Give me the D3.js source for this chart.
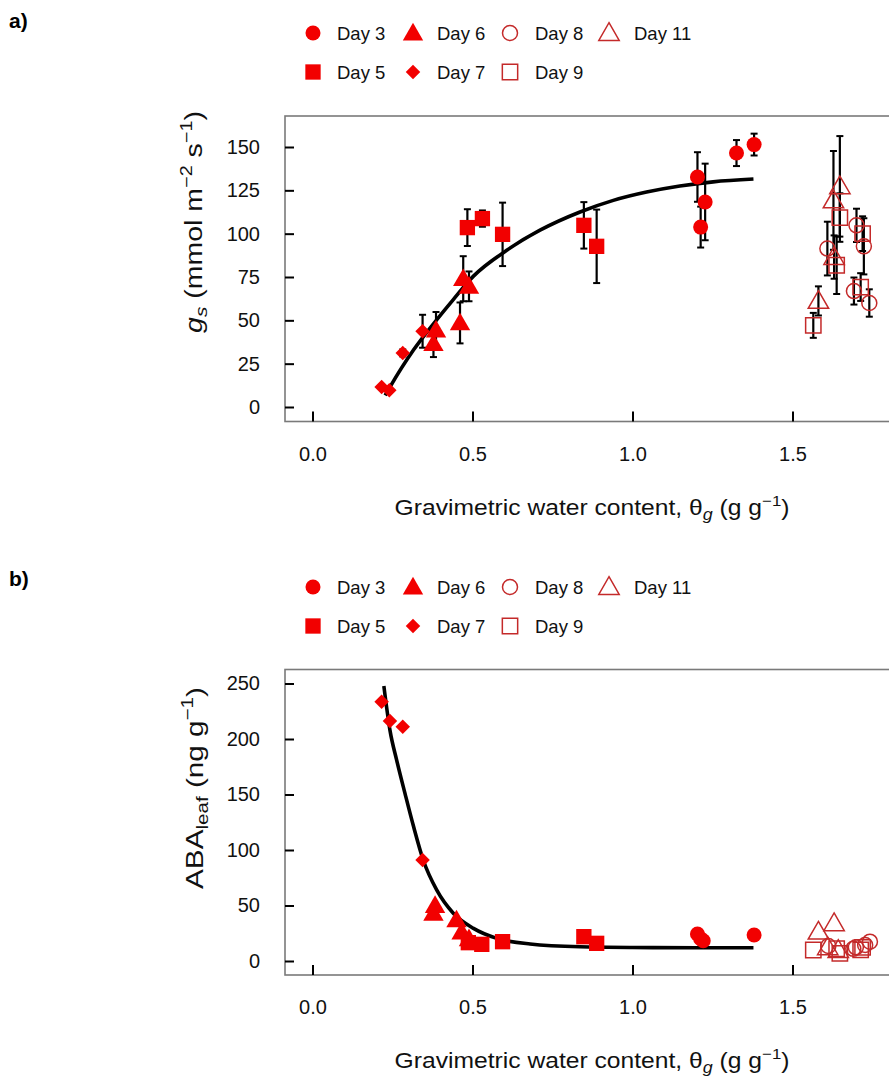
<!DOCTYPE html>
<html><head><meta charset="utf-8">
<script src="https://cdn.jsdelivr.net/npm/d3@7"></script>
<style>body{margin:0;background:#fff}svg{display:block;font-family:"Liberation Sans",Arial,sans-serif}</style>
</head><body><svg id="c" width="889" height="1077"></svg>
<script>
// ---------- data ----------
const xTicks = [0, 0.5, 1.0, 1.5];
const gsTicks = [0, 25, 50, 75, 100, 125, 150];
const abaTicks = [0, 50, 100, 150, 200, 250];
const legendRow1 = ["Day 3", "Day 6", "Day 8", "Day 11"];
const legendRow2 = ["Day 5", "Day 7", "Day 9"];

// stomatal conductance: [theta_g, gs, s.e.]
const gsDay3 = [[1.203,132.7,14.3],[1.227,118.3,22.1],[1.213,103.8,11.8],[1.325,146.5,7.5],[1.38,151.4,6.3]];
const gsDay5 = [[0.484,103.5,10.6],[0.531,108.7,4.7],[0.594,99.6,18.3],[0.848,104.8,13.4],[0.888,92.7,21.2]];
const gsDay6 = [[0.386,44.3,10.5],[0.378,36.5,7.7],[0.461,48.5,11.8],[0.471,74,13],[0.489,69.6,8.6]];
const gsDay7 = [[0.216,11.5,0],[0.24,9.6,0],[0.282,31.2,2],[0.344,43.7,9.5]];
const gsDay8 = [[1.609,91.4,15.5],[1.70,104.8,9.6],[1.723,92.7,16.2],[1.692,66.9,7.8],[1.74,60,7.9]];
const gsDay9 = [[1.565,47.1,7.2],[1.648,109.3,14],[1.638,81.8,16.6],[1.719,100,10],[1.713,69.2,8]];
const gsDay11 = [[1.581,61.2,8.4],[1.628,119.2,28.5],[1.648,127.3,29],[1.630,86.5,12.5]];

// leaf ABA: [theta_g, ABA]
const abaDay3 = [[1.203,24.3],[1.221,18.3],[1.213,20],[1.38,23.4]];
const abaDay5 = [[0.487,16.5],[0.529,15],[0.594,17.4],[0.848,21.9],[0.888,15.9]];
const abaDay6 = [[0.383,50],[0.378,43],[0.45,37],[0.466,26],[0.489,20]];
const abaDay7 = [[0.216,233.6],[0.242,216.2],[0.282,211.1],[0.344,91]];
const abaDay8 = [[1.612,13.5],[1.698,12.3],[1.727,14.4],[1.742,17.4],[1.69,11]];
const abaDay9 = [[1.565,9.9],[1.648,6.9],[1.638,11],[1.719,12.3],[1.713,10]];
const abaDay11 = [[1.581,26.4],[1.630,34],[1.61,12.3],[1.643,9.9]];

// fitted curves
const gsFitX = [0.227,0.242,0.315,0.378,0.44,0.503,0.607,0.711,0.836,0.94,1.044,1.148,1.252,1.378];
const gsFitY = [6.7,11.5,32.7,48,62,75.5,90.4,102,112.5,119.2,124,127.5,129.9,131.5];
const abaFitX = [0.223,0.242,0.263,0.289,0.315,0.346,0.388,0.44,0.503,0.576,0.68,0.836,1.0,1.2,1.378];
const abaFitY = [247.7,208,181,151,122,91,64,43,29.4,20.4,15.3,12.8,12.2,12,12];

// ---------- styling / table ----------
const RED = "#f20000", DARK = "#c42a2a";
const styles = {
  "Day 3": {shape: "circle", filled: true},
  "Day 5": {shape: "square", filled: true},
  "Day 6": {shape: "triangle", filled: true},
  "Day 7": {shape: "diamond", filled: true},
  "Day 8": {shape: "circle", filled: false},
  "Day 9": {shape: "square", filled: false},
  "Day 11": {shape: "triangle", filled: false}
};
const seriesA = [["Day 3",gsDay3],["Day 5",gsDay5],["Day 6",gsDay6],["Day 7",gsDay7],["Day 8",gsDay8],["Day 9",gsDay9],["Day 11",gsDay11]];
const seriesB = [["Day 3",abaDay3],["Day 5",abaDay5],["Day 6",abaDay6],["Day 7",abaDay7],["Day 8",abaDay8],["Day 9",abaDay9],["Day 11",abaDay11]];

const svg = d3.select("#c");
const FONT = "'Liberation Sans', Arial, sans-serif";

function symPath(shape, scale) {
  const s = scale || 1;
  if (shape === "circle") return d3.symbol(d3.symbolCircle, 177 * s)();
  if (shape === "square") return d3.symbol(d3.symbolSquare, 235 * s)();
  if (shape === "triangle") return d3.symbol(d3.symbolTriangle, 180 * s)();
  if (shape === "diamond") return d3.symbol(d3.symbolSquare, 105 * s)();
}
function drawSym(g, day, cx, cy, scale) {
  const st = styles[day];
  const rot = st.shape === "diamond" ? " rotate(45)" : "";
  const dy = st.shape === "triangle" ? 1.5 : 0;
  g.append("path").attr("d", symPath(st.shape, scale))
    .attr("transform", `translate(${cx},${cy + dy})${rot}`)
    .attr("fill", st.filled ? RED : "none")
    .attr("stroke", st.filled ? "none" : DARK)
    .attr("stroke-width", st.filled ? 0 : 1.5);
}
// stretch a text element along its own direction to a target length
function fitLength(sel, base, target) {
  const w = sel.node().getComputedTextLength();
  sel.attr("transform", `${base} scale(${target / w},1)`);
}

const x = d3.scaleLinear().domain([0, 1.5]).range([312.5, 792.5]);

function panel(opts) {
  const g = svg.append("g");
  const {top, bottom, y, ticks, series, fitX, fitY, errors, legendY, label, labelY} = opts;
  g.append("text").attr("x", 9).attr("y", labelY).attr("font-size", 21).attr("font-weight", "bold")
    .attr("font-family", FONT).text(label);
  // legend
  const lxSym = [313, 413, 510, 609], lxTxt = [337, 437, 535, 634];
  legendRow1.forEach((d, i) => {
    drawSym(g, d, lxSym[i], legendY, 1);
    g.append("text").attr("x", lxTxt[i]).attr("y", legendY + 6.5).attr("font-size", 18.5)
      .attr("font-family", FONT).attr("fill", "#111").text(d);
  });
  legendRow2.forEach((d, i) => {
    drawSym(g, d, lxSym[i], legendY + 39, 1);
    g.append("text").attr("x", lxTxt[i]).attr("y", legendY + 39 + 6.5).attr("font-size", 18.5)
      .attr("font-family", FONT).attr("fill", "#111").text(d);
  });
  // box
  g.append("rect").attr("x", 285).attr("y", top).attr("width", 640).attr("height", bottom - top)
    .attr("fill", "none").attr("stroke", "#7a7a7a").attr("stroke-width", 1.6);
  // y axis
  const ya = g.append("g").attr("transform", "translate(285,0)")
    .call(d3.axisLeft(y).tickValues(ticks).tickSize(-9).tickPadding(25).tickFormat(d3.format("d")));
  ya.select(".domain").remove();
  ya.selectAll(".tick line").attr("stroke", "#000").attr("stroke-width", 2);
  ya.selectAll(".tick text").attr("font-size", 20).attr("font-family", FONT).attr("fill", "#111");
  // x axis
  const xa = g.append("g").attr("transform", `translate(0,${bottom})`)
    .call(d3.axisBottom(x).tickValues(xTicks).tickSize(-10).tickPadding(25).tickFormat(d3.format(".1f")));
  xa.select(".domain").remove();
  xa.selectAll(".tick line").attr("stroke", "#000").attr("stroke-width", 2);
  xa.selectAll(".tick text").attr("font-size", 20).attr("font-family", FONT).attr("fill", "#111");
  // x title
  const xt = g.append("text").attr("text-anchor", "middle")
    .attr("font-size", 22).attr("font-family", FONT).attr("fill", "#111");
  xt.append("tspan").text("Gravimetric water content, θ");
  xt.append("tspan").attr("font-style", "italic").attr("font-size", 16).attr("dy", 5).text("g");
  xt.append("tspan").attr("dy", -5).text(" (g g");
  xt.append("tspan").attr("font-size", 15).attr("dy", -9).text("−1");
  xt.append("tspan").attr("dy", 9).text(")");
  fitLength(xt, `translate(592,${bottom + 93})`, 395);
  // error bars
  if (errors) {
    series.forEach(([day, pts]) => {
      pts.forEach(p => {
        if (!p[2]) return;
        const x0 = x(p[0]), y1 = y(p[1] + p[2]), y2 = y(p[1] - p[2]);
        g.append("line").attr("x1", x0).attr("x2", x0).attr("y1", y1).attr("y2", y2)
          .attr("stroke", "#000").attr("stroke-width", 2.2);
        [y1, y2].forEach(yy => g.append("line").attr("x1", x0 - 3.5).attr("x2", x0 + 3.5)
          .attr("y1", yy).attr("y2", yy).attr("stroke", "#000").attr("stroke-width", 2));
      });
    });
  }
  // fitted curve
  const fit = fitX.map((v, i) => [v, fitY[i]]);
  g.append("path").datum(fit)
    .attr("d", d3.line().x(d => x(d[0])).y(d => y(d[1])).curve(d3.curveMonotoneX))
    .attr("fill", "none").attr("stroke", "#000").attr("stroke-width", 3.6);
  // markers
  series.forEach(([day, pts]) => pts.forEach(p => drawSym(g, day, x(p[0]), y(p[1]), 1)));
  return g;
}

// panel a
const yA = d3.scaleLinear().domain([0, 150]).range([407, 147]);
const ga = panel({top: 116, bottom: 421.5, y: yA, ticks: gsTicks, series: seriesA,
  fitX: gsFitX, fitY: gsFitY, errors: true, legendY: 33, label: "a)", labelY: 28});
const yta = ga.append("text").attr("text-anchor", "middle")
  .attr("font-size", 23).attr("font-family", FONT).attr("fill", "#111");
yta.append("tspan").attr("font-style", "italic").text("g");
yta.append("tspan").attr("font-style", "italic").attr("font-size", 17).attr("dy", 5).text("s");
yta.append("tspan").attr("dy", -5).text(" (mmol m");
yta.append("tspan").attr("font-size", 16).attr("dy", -10).text("−2");
yta.append("tspan").attr("dy", 10).text(" s");
yta.append("tspan").attr("font-size", 16).attr("dy", -10).text("−1");
yta.append("tspan").attr("dy", 10).text(")");
fitLength(yta, "translate(202,222) rotate(-90)", 222);

// panel b
const yB = d3.scaleLinear().domain([0, 250]).range([961, 683.5]);
const gb = panel({top: 669.5, bottom: 975, y: yB, ticks: abaTicks, series: seriesB,
  fitX: abaFitX, fitY: abaFitY, errors: false, legendY: 587, label: "b)", labelY: 586});
const ytb = gb.append("text").attr("text-anchor", "middle")
  .attr("font-size", 23).attr("font-family", FONT).attr("fill", "#111");
ytb.append("tspan").text("ABA");
ytb.append("tspan").attr("font-size", 16).attr("dy", 5).text("leaf");
ytb.append("tspan").attr("dy", -5).text(" (ng g");
ytb.append("tspan").attr("font-size", 16).attr("dy", -10).text("−1");
ytb.append("tspan").attr("dy", 10).text(")");
fitLength(ytb, "translate(203,788) rotate(-90)", 202);
</script></body></html>
